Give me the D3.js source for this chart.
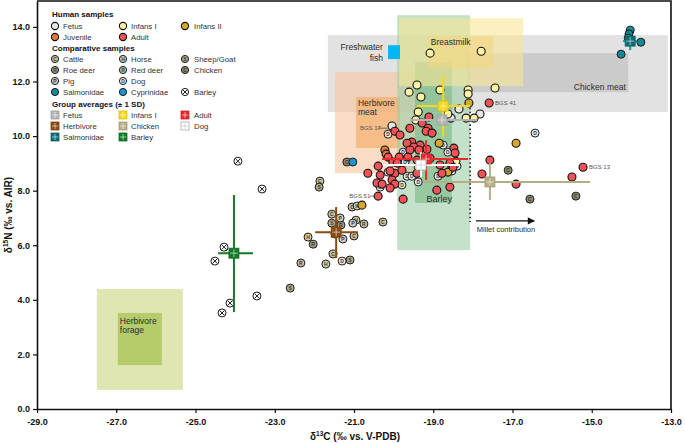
<!DOCTYPE html>
<html><head><meta charset="utf-8">
<script src="https://cdn.jsdelivr.net/npm/d3@7"></script>
<style>body{margin:0;background:#fff;} svg text{font-family:"Liberation Sans",Arial,sans-serif;}</style>
</head><body><svg id="c" width="685" height="443"></svg>
<script>
// ---------- DATA ----------
const xTicks = [-29,-27,-25,-23,-21,-19,-17,-15,-13];
const yTicks = [0,2,4,6,8,10,12,14];

// Human samples [d13C, d15N]
const fetus = [[-18.35,10.99],[-17.82,10.81],[-18.55,10.66],[-20.04,10.37]];
const infansI = [[-19.08,13.04],[-17.79,13.11],[-19.41,11.87],[-19.61,11.61],[-19.31,11.43],[-18.83,11.69],[-18.12,11.69],[-18.12,11.54],[-17.44,11.76],[-19.38,10.88],[-19.44,10.59],[-18.63,10.81],[-18.17,10.66],[-17.97,10.66],[-18.43,9.08]];
const infansII = [[-18.10,11.21],[-16.91,9.74],[-18.63,8.68],[-20.80,7.47],[-18.85,9.74]];
const juvenile = [[-20.22,9.49],[-20.19,9.34]];
const adult = [[-17.59,11.21],[-19.11,10.70],[-19.28,10.48],[-19.59,10.29],[-19.13,10.29],[-19.97,10.18],[-19.84,10.04],[-19.18,10.18],[-19.03,10.11],[-19.54,9.78],[-19.66,9.74],[-19.33,9.67],[-19.49,9.60],[-19.59,9.49],[-18.48,9.56],[-18.45,9.38],[-19.16,9.52],[-19.36,9.49],[-20.14,9.23],[-19.86,9.23],[-20.02,9.05],[-19.91,9.01],[-19.64,9.23],[-19.41,9.12],[-19.08,9.19],[-18.83,8.94],[-18.58,9.01],[-18.50,8.86],[-18.78,8.64],[-20.65,8.64],[-20.34,8.57],[-19.97,8.64],[-19.79,8.75],[-19.41,8.64],[-20.42,8.28],[-20.29,8.24],[-20.04,8.39],[-19.97,8.24],[-20.09,8.10],[-20.39,7.80],[-19.76,7.69],[-18.91,8.02],[-18.58,8.13],[-17.57,9.12],[-17.77,8.61],[-16.91,8.24],[-15.50,8.50],[-15.22,8.86],[-20.09,8.72],[-20.39,8.90]];

// Comparative samples
const cattle = [[-21.86,8.35],[-21.05,7.40],[-21.56,7.14],[-21.00,6.34],[-21.53,5.68],[-20.27,6.85]];
const horse = [[-20.92,7.44],[-20.95,6.92],[-22.16,6.30],[-21.71,5.31]];
const sheepGoat = [[-21.88,8.13],[-21.56,6.81],[-21.10,5.46],[-22.61,4.43]];
const roeDeer = [[-21.33,6.74],[-22.03,6.04]];
const redDeer = [[-20.75,6.78],[-22.34,5.35]];
const chicken = [[-21.18,9.05],[-17.11,8.75],[-16.56,7.69],[-15.40,7.80]];
const pig = [[-21.35,7.00],[-21.28,6.23],[-21.03,6.81]];
const dog = [[-21.48,6.41],[-21.30,5.42],[-20.14,10.07],[-18.75,9.67],[-18.63,9.41],[-19.76,9.41],[-19.71,9.05],[-19.38,8.86],[-18.53,8.72],[-18.40,8.90],[-20.14,8.68],[-19.66,8.53],[-19.54,8.53],[-19.38,8.32],[-18.88,8.53],[-20.34,8.13],[-19.79,8.21],[-16.43,10.11]];
const salmonidae = [[-14.03,13.88],[-14.06,13.74],[-14.08,13.59],[-13.76,13.44],[-14.26,13.00]];
const cyprinidae = [[-21.03,9.05]];
const barley = [[-23.93,9.08],[-23.32,8.06],[-24.28,5.93],[-24.51,5.42],[-23.45,4.14],[-24.13,3.88],[-24.33,3.52]];

// Group averages (± 1 SD)
const avgNames = ["Fetus","Infans I","Adult","Herbivore","Chicken","Dog","Salmonidae","Barley"];
const avgX   = [-18.78,-18.75,-19.18,-21.45,-17.57,-19.31,-14.03,-24.03];
const avgY   = [10.59,11.10,9.16,6.48,8.32,8.94,13.48,5.71];
const avgXlo = [-19.59,-19.41,-20.29,-21.98,-19.26,-20.27,-14.21,-24.43];
const avgXhi = [-17.90,-18.07,-18.12,-20.90,-15.04,-18.35,-13.86,-23.55];
const avgYlo = [10.35,9.96,8.39,5.53,7.66,8.50,13.15,3.55];
const avgYhi = [10.85,12.23,9.85,7.40,9.01,9.41,13.70,7.84];

// Food source ranges (d13C min/max, d15N min/max)
const boxNames = ["chickenOuter","chickenInner","herbMeatOuter","herbMeatInner","barleyOuter","barleyInner","milkOuter","milkInner","forageOuter","forageInner","fish"];
const boxX0 = [-21.66,-18.15,-21.48,-20.95,-19.91,-19.46,-19.86,-19.11,-27.49,-26.96,-20.14];
const boxX1 = [-13.08,-14.08,-19.33,-19.84,-18.07,-18.53,-16.73,-17.49,-25.32,-25.85,-19.84];
const boxY0 = [10.88,11.61,8.64,9.56,5.82,7.55,11.83,12.49,0.70,1.61,12.82];
const boxY1 = [13.70,13.04,12.34,11.43,14.43,12.71,14.32,13.66,4.40,3.52,13.33];

// ---------- STYLE ----------
const boxFill = {chickenOuter:"#cfcfcf",chickenInner:"#bdbdbd",herbMeatOuter:"#f8c59d",herbMeatInner:"#f3a863",
  barleyOuter:"#9bcfa5",barleyInner:"#7ab885",milkOuter:"#f8e696",milkInner:"#f3d77f",
  forageOuter:"#cad57f",forageInner:"#9bb938",fish:"#00b7f1"};
const humanStyle = {fetus:"#e6e6e6",infansI:"#fff3a6",infansII:"#d7a82a",juvenile:"#e27a36",adult:"#ef5257"};
const compStyle = {
  cattle:{fill:"#c9c1a0",l:"C"}, horse:{fill:"#d8d0ae",l:"H"}, sheepGoat:{fill:"#b3ab8c",l:"S"},
  roeDeer:{fill:"#a29c82",l:"R"}, redDeer:{fill:"#cbc3a3",l:"R"}, chicken:{fill:"#8f8a6e",l:"C"},
  pig:{fill:"#cfcfcf",l:"P"}, dog:{fill:"#ececec",l:"D"}, salmonidae:{fill:"#158896",l:""},
  cyprinidae:{fill:"#1b96d3",l:""}, barley:{fill:"#ffffff",l:"X"}};
const avgColor = {"Fetus":"#b3b3b3","Infans I":"#f6d81a","Adult":"#e52a2e","Herbivore":"#8a4b14","Chicken":"#b5ad85","Dog":"#ffffff","Salmonidae":"#0d6d73","Barley":"#127a26"};
const avgLine = {"Fetus":"#b3b3b3","Infans I":"#f6d81a","Adult":"#e52a2e","Herbivore":"#8a4b14","Chicken":"#b5ad85","Dog":"#ffffff","Salmonidae":"#1596a0","Barley":"#127a26"};

// ---------- CHART ----------
const svg = d3.select("#c");
const x = d3.scaleLinear().domain([-29,-13]).range([37,671]);
const y = d3.scaleLinear().domain([0,14.95]).range([409,1]);

// boxes
const gb = svg.append("g");
boxNames.forEach((n,i)=>{
  gb.append("rect").attr("x",x(boxX0[i])).attr("y",y(boxY1[i]))
    .attr("width",x(boxX1[i])-x(boxX0[i])).attr("height",y(boxY0[i])-y(boxY1[i]))
    .attr("fill",boxFill[n]).attr("fill-opacity", n==="fish"?1:0.6);
});

// box labels
const labels = [
  {t:"Freshwater",x:-20.27,y:13.15,a:"end",s:8.5},
  {t:"fish",x:-20.27,y:12.75,a:"end",s:8.5},
  {t:"Breastmilk",x:-19.06,y:13.33,a:"start",s:8.5},
  {t:"Chicken meat",x:-14.14,y:11.69,a:"end",s:8.5},
  {t:"Herbivore",x:-20.90,y:11.10,a:"start",s:8.5},
  {t:"meat",x:-20.90,y:10.77,a:"start",s:8.5},
  {t:"Barley",x:-18.85,y:7.58,a:"middle",s:9},
  {t:"Herbivore",x:-26.91,y:3.11,a:"start",s:8.5},
  {t:"forage",x:-26.91,y:2.78,a:"start",s:8.5},
  {t:"Millet contribution",x:-17.90,y:6.48,a:"start",s:7.5}
];
labels.forEach(l=>svg.append("text").attr("x",x(l.x)).attr("y",y(l.y)).attr("text-anchor",l.a)
  .attr("font-size",l.s).attr("fill","#2b2b2b").text(l.t));

// millet dotted line and arrow
svg.append("defs").append("marker").attr("id","ah").attr("viewBox","0 0 10 10").attr("refX",9).attr("refY",5)
  .attr("markerWidth",7).attr("markerHeight",6).attr("orient","auto")
  .append("path").attr("d","M0,0L10,5L0,10z").attr("fill","#111");
svg.append("line").attr("x1",x(-18.07)).attr("x2",x(-18.07)).attr("y1",y(11.2)).attr("y2",y(6.85))
  .attr("stroke","#222").attr("stroke-width",1.6).attr("stroke-dasharray","1.6,2.6");
svg.append("line").attr("x1",x(-17.92)).attr("x2",x(-16.45)).attr("y1",y(6.89)).attr("y2",y(6.89))
  .attr("stroke","#111").attr("stroke-width",1.2).attr("marker-end","url(#ah)");

// BGS labels
const bgs = [
  {t:"BGS 41",x:-17.44,y:11.14,lx:null},
  {t:"BGS 13",x:-15.07,y:8.79,lx:null},
  {t:"BGS 17",x:-20.85,y:10.22,lx:[-20.40,-20.15],ly:10.29},
  {t:"BGS 51",x:-20.62 - 0.5,y:7.73,lx:[-20.60,-20.47],ly:7.80}
];
bgs.forEach(b=>{
  svg.append("text").attr("x",x(b.x)).attr("y",y(b.y)).attr("font-size",6).attr("fill","#555").text(b.t);
  if(b.lx) svg.append("line").attr("x1",x(b.lx[0])).attr("x2",x(b.lx[1])).attr("y1",y(b.ly)).attr("y2",y(b.ly)).attr("stroke","#555").attr("stroke-width",0.8);
});

// symbol drawers
function compSym(g, cx, cy, key, r){
  const st = compStyle[key];
  g.append("circle").attr("cx",cx).attr("cy",cy).attr("r",r).attr("fill",st.fill).attr("stroke","#1a1a1a").attr("stroke-width",1);
  if(key==="barley"){
    const d=r*0.6;
    g.append("path").attr("d",`M${cx-d},${cy-d}L${cx+d},${cy+d}M${cx-d},${cy+d}L${cx+d},${cy-d}`).attr("stroke","#1a1a1a").attr("stroke-width",1);
  } else if(st.l){
    g.append("text").attr("x",cx).attr("y",cy+1.8).attr("text-anchor","middle").attr("font-size",5).attr("font-weight","bold").attr("fill","#333").text(st.l);
  }
}
function humanSym(g,cx,cy,key,r){
  g.append("circle").attr("cx",cx).attr("cy",cy).attr("r",r).attr("fill",humanStyle[key]).attr("stroke","#111").attr("stroke-width",1.1);
}
function avgSym(g,cx,cy,name,s){
  g.append("rect").attr("x",cx-s/2).attr("y",cy-s/2).attr("width",s).attr("height",s)
    .attr("fill",avgColor[name]).attr("stroke",name==="Dog"?"#aaa":d3.color(avgColor[name]).darker(0.3)).attr("stroke-width",0.8);
  g.append("path").attr("d",`M${cx},${cy-s/2+1}V${cy+s/2-1}M${cx-s/2+1},${cy}H${cx+s/2-1}`)
    .attr("stroke",name==="Dog"?"#bbb":"#fff").attr("stroke-opacity",0.7).attr("stroke-width",0.8);
}

// points
const gp = svg.append("g");
const compSets = {cattle,horse,sheepGoat,roeDeer,redDeer,chicken,pig,dog,salmonidae,cyprinidae,barley};
Object.keys(compSets).forEach(k=>compSets[k].forEach(d=>compSym(gp,x(d[0]),y(d[1]),k,4)));
const humanSets = {fetus,infansI,infansII,juvenile,adult};
Object.keys(humanSets).forEach(k=>humanSets[k].forEach(d=>humanSym(gp,x(d[0]),y(d[1]),k,4)));

// averages
const ga = svg.append("g");
avgNames.forEach((n,i)=>{
  ga.append("line").attr("x1",x(avgXlo[i])).attr("x2",x(avgXhi[i])).attr("y1",y(avgY[i])).attr("y2",y(avgY[i]))
    .attr("stroke",avgLine[n]).attr("stroke-width",2);
  ga.append("line").attr("x1",x(avgX[i])).attr("x2",x(avgX[i])).attr("y1",y(avgYlo[i])).attr("y2",y(avgYhi[i]))
    .attr("stroke",avgLine[n]).attr("stroke-width",2);
});
avgNames.forEach((n,i)=>avgSym(ga,x(avgX[i]),y(avgY[i]),n,10));

// axes
const ax = svg.append("g").attr("transform","translate(0,409)")
  .call(d3.axisBottom(x).tickValues(xTicks).tickFormat(d=>d.toFixed(1)).tickSize(4).tickSizeOuter(0));
const ay = svg.append("g").attr("transform","translate(37,0)")
  .call(d3.axisLeft(y).tickValues(yTicks).tickFormat(d=>d.toFixed(1)).tickSize(4).tickSizeOuter(0));
[ax,ay].forEach(a=>{
  a.selectAll("text").attr("font-size",9).attr("font-weight","bold").attr("fill","#111").attr("font-family","Liberation Sans, Arial, sans-serif");
  a.selectAll("line").attr("stroke","#111").attr("stroke-width",1.2);
  a.select(".domain").attr("stroke","#111").attr("stroke-width",1.6);
});
ax.selectAll("text").attr("dy","1.0em");
// frame top/right
svg.append("path").attr("d",`M${x(-29)},${y(14.95)}H${x(-13)}V${y(0)}`).attr("fill","none").attr("stroke","#111").attr("stroke-width",1.6);

// axis titles
const xt = svg.append("text").attr("x",355).attr("y",440).attr("text-anchor","middle").attr("font-size",10).attr("font-weight","bold").attr("fill","#111");
xt.append("tspan").text("δ");
xt.append("tspan").attr("font-size",6.5).attr("dy",-4).text("13");
xt.append("tspan").attr("dy",4).text("C (‰ vs. V-PDB)");
const yt = svg.append("text").attr("transform","translate(12,215) rotate(-90)").attr("text-anchor","middle").attr("font-size",10).attr("font-weight","bold").attr("fill","#111");
yt.append("tspan").text("δ");
yt.append("tspan").attr("font-size",6.5).attr("dy",-4).text("15");
yt.append("tspan").attr("dy",4).text("N (‰ vs. AIR)");

// legend
const lg = svg.append("g");
const colC = [55,123,185], colT = [63,131,194];
const heads = [["Human samples",17],["Comparative samples",51],["Group averages (± 1 SD)",107]];
heads.forEach(h=>lg.append("text").attr("x",52).attr("y",h[1]).attr("font-size",8).attr("font-weight","bold").attr("fill","#111").text(h[0]));
const legHuman = [["fetus","Fetus",0,26],["infansI","Infans I",1,26],["infansII","Infans II",2,26],["juvenile","Juvenile",0,37],["adult","Adult",1,37]];
legHuman.forEach(e=>{humanSym(lg,colC[e[2]],e[3],e[0],3.6);
  lg.append("text").attr("x",colT[e[2]]).attr("y",e[3]+3).attr("font-size",7.8).attr("fill","#333").text(e[1]);});
const legComp = [["cattle","Cattle",0,59],["horse","Horse",1,59],["sheepGoat","Sheep/Goat",2,59],
  ["roeDeer","Roe deer",0,70],["redDeer","Red deer",1,70],["chicken","Chicken",2,70],
  ["pig","Pig",0,81],["dog","Dog",1,81],
  ["salmonidae","Salmonidae",0,92],["cyprinidae","Cyprinidae",1,92],["barley","Barley",2,92]];
legComp.forEach(e=>{compSym(lg,colC[e[2]],e[3],e[0],3.6);
  lg.append("text").attr("x",colT[e[2]]).attr("y",e[3]+3).attr("font-size",7.8).attr("fill","#333").text(e[1]);});
const legAvg = [["Fetus",0,115],["Infans I",1,115],["Adult",2,115],["Herbivore",0,126],["Chicken",1,126],["Dog",2,126],["Salmonidae",0,137],["Barley",1,137]];
legAvg.forEach(e=>{avgSym(lg,colC[e[1]],e[2],e[0],8);
  lg.append("text").attr("x",colT[e[1]]).attr("y",e[2]+3).attr("font-size",7.8).attr("fill","#333").text(e[0]);});
</script></body></html>
